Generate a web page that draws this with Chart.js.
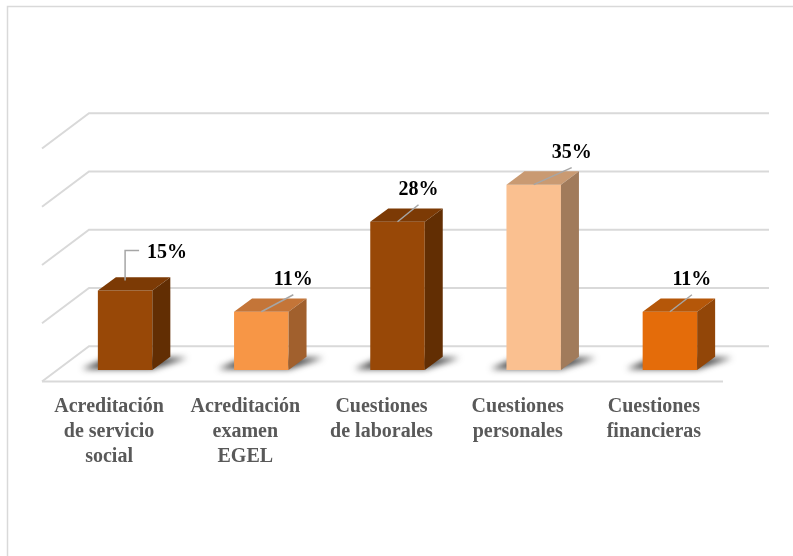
<!DOCTYPE html>
<html lang="es">
<head>
<meta charset="utf-8">
<title>Motivos</title>
<script src="https://cdn.jsdelivr.net/npm/chart.js@4.4.0/dist/chart.umd.min.js"></script>
<style>
  html, body { margin: 0; padding: 0; background: #fff; }
  canvas { display: block; }
</style>
</head>
<body>
<canvas id="grafica" width="793" height="556"></canvas>
<script>
// Datos
const categorias = [
  ["Acreditación", "de servicio", "social"],
  ["Acreditación", "examen", "EGEL"],
  ["Cuestiones", "de laborales"],
  ["Cuestiones", "personales"],
  ["Cuestiones", "financieras"]
];
const porcentajes = [15, 11, 28, 35, 11];
const escalaMax = 44;
const escalaPaso = 11;

// Colores de cada cara de la barra
const coloresFrente = ["#984807", "#F79646", "#984807", "#FAC090", "#E46C0A"];
const coloresTapa = ["#7C3A05", "#C47538", "#7C3A05", "#C99A72", "#B55709"];
const coloresLado = ["#622E03", "#A1602D", "#622E03", "#A17B5B", "#924608"];

// profundidad de las barras y del piso
const prof = { x: 18, y: 13.3 };
const pisoFrente = { x: -15, y: 11.5 };
const pisoFondo = { x: 32, y: -23.8 };

// separacion horizontal de cada etiqueta respecto al centro de la barra
const etiquetaDx = [0, 32, 21, 38, 22];

const caja3d = {
  id: "caja3d",
  beforeDraw(chart) {
    const ctx = chart.ctx;
    ctx.save();
    ctx.strokeStyle = "#d9d9d9";
    ctx.lineWidth = 1.5;
    ctx.beginPath();
    ctx.moveTo(7.5, chart.height);
    ctx.lineTo(7.5, 6.5);
    ctx.lineTo(chart.width, 6.5);
    ctx.stroke();
    ctx.restore();
  },
  beforeDatasetsDraw(chart) {
    const { ctx, chartArea: area, scales } = chart;
    const y = scales.y;
    const xFondo = area.left + pisoFondo.x;
    const xFrente = area.left + pisoFrente.x;
    const xFin = area.right + pisoFondo.x - 1;
    const caida = pisoFrente.y - pisoFondo.y;

    ctx.save();
    ctx.strokeStyle = "#d9d9d9";
    ctx.lineWidth = 2;
    // lineas de la pared del fondo y la pared lateral
    y.ticks.forEach(function (t) {
      const py = y.getPixelForValue(t.value) + pisoFondo.y;
      ctx.beginPath();
      ctx.moveTo(xFrente, py + caida);
      ctx.lineTo(xFondo, py);
      ctx.lineTo(xFin, py);
      ctx.stroke();
    });
    // borde frontal del piso
    const yPiso = y.getPixelForValue(0) + pisoFrente.y;
    ctx.beginPath();
    ctx.moveTo(xFrente, yPiso);
    ctx.lineTo(area.right + pisoFrente.x, yPiso);
    ctx.stroke();

    // sombras sobre el piso
    ctx.filter = "blur(3px)";
    ctx.fillStyle = "rgba(30, 30, 30, 0.85)";
    chart.getDatasetMeta(0).data.forEach(function (bar) {
      const xl = bar.x - bar.width / 2;
      const xr = bar.x + bar.width / 2;
      const yb = bar.base;
      ctx.beginPath();
      ctx.moveTo(xl - 16, yb - 1);
      ctx.lineTo(xr, yb - 1);
      ctx.lineTo(xr + prof.x + 17, yb - prof.y + 1);
      ctx.lineTo(xl + prof.x - 8, yb - prof.y + 1);
      ctx.closePath();
      ctx.fill();
    });
    ctx.restore();
  },
  afterDatasetsDraw(chart) {
    const ctx = chart.ctx;
    const datos = chart.data.datasets[0].data;
    ctx.save();
    chart.getDatasetMeta(0).data.forEach(function (bar, i) {
      const xl = bar.x - bar.width / 2;
      const xr = bar.x + bar.width / 2;
      const yt = bar.y;
      const yb = bar.base;

      // tapa
      ctx.fillStyle = coloresTapa[i];
      ctx.beginPath();
      ctx.moveTo(xl, yt);
      ctx.lineTo(xr, yt);
      ctx.lineTo(xr + prof.x, yt - prof.y);
      ctx.lineTo(xl + prof.x, yt - prof.y);
      ctx.closePath();
      ctx.fill();

      // lado derecho
      ctx.fillStyle = coloresLado[i];
      ctx.beginPath();
      ctx.moveTo(xr, yt);
      ctx.lineTo(xr + prof.x, yt - prof.y);
      ctx.lineTo(xr + prof.x, yb - prof.y);
      ctx.lineTo(xr, yb);
      ctx.closePath();
      ctx.fill();

      // linea guia y etiqueta
      ctx.strokeStyle = "#a6a6a6";
      ctx.lineWidth = 1.5;
      ctx.fillStyle = "#000";
      ctx.font = "bold 20px 'Liberation Serif'";
      ctx.textBaseline = "middle";
      const texto = datos[i] + "%";
      ctx.beginPath();
      if (i === 0) {
        ctx.moveTo(bar.x, yt - 10);
        ctx.lineTo(bar.x, yt - 40);
        ctx.lineTo(bar.x + 14, yt - 40);
        ctx.stroke();
        ctx.textAlign = "left";
        ctx.fillText(texto, bar.x + 22, yt - 38);
      } else {
        const dx = etiquetaDx[i];
        ctx.moveTo(bar.x, yt);
        ctx.lineTo(bar.x + dx, yt - 17);
        ctx.stroke();
        ctx.textAlign = "center";
        ctx.fillText(texto, bar.x + dx, yt - 32);
      }
    });
    ctx.restore();
  }
};

new Chart(document.getElementById("grafica").getContext("2d"), {
  type: "bar",
  data: {
    labels: categorias,
    datasets: [
      {
        label: "Porcentaje",
        data: porcentajes,
        backgroundColor: coloresFrente,
        borderWidth: 0,
        barPercentage: 0.4,
        categoryPercentage: 1
      }
    ]
  },
  options: {
    responsive: false,
    animation: false,
    layout: {
      padding: { left: 57, right: 55, top: 137, bottom: 0 }
    },
    plugins: {
      legend: { display: false },
      tooltip: { enabled: false }
    },
    scales: {
      x: {
        grid: { display: false },
        border: { display: false },
        ticks: {
          color: "#595959",
          font: { family: "'Liberation Serif'", size: 20, weight: "bold", lineHeight: 1.25 },
          padding: 16,
          labelOffset: -16,
          maxRotation: 0,
          autoSkip: false
        },
        afterFit: function (scale) {
          scale.height = 186;
        }
      },
      y: {
        display: false,
        min: 0,
        max: escalaMax,
        ticks: { stepSize: escalaPaso }
      }
    }
  },
  plugins: [caja3d]
});
</script>
</body>
</html>
